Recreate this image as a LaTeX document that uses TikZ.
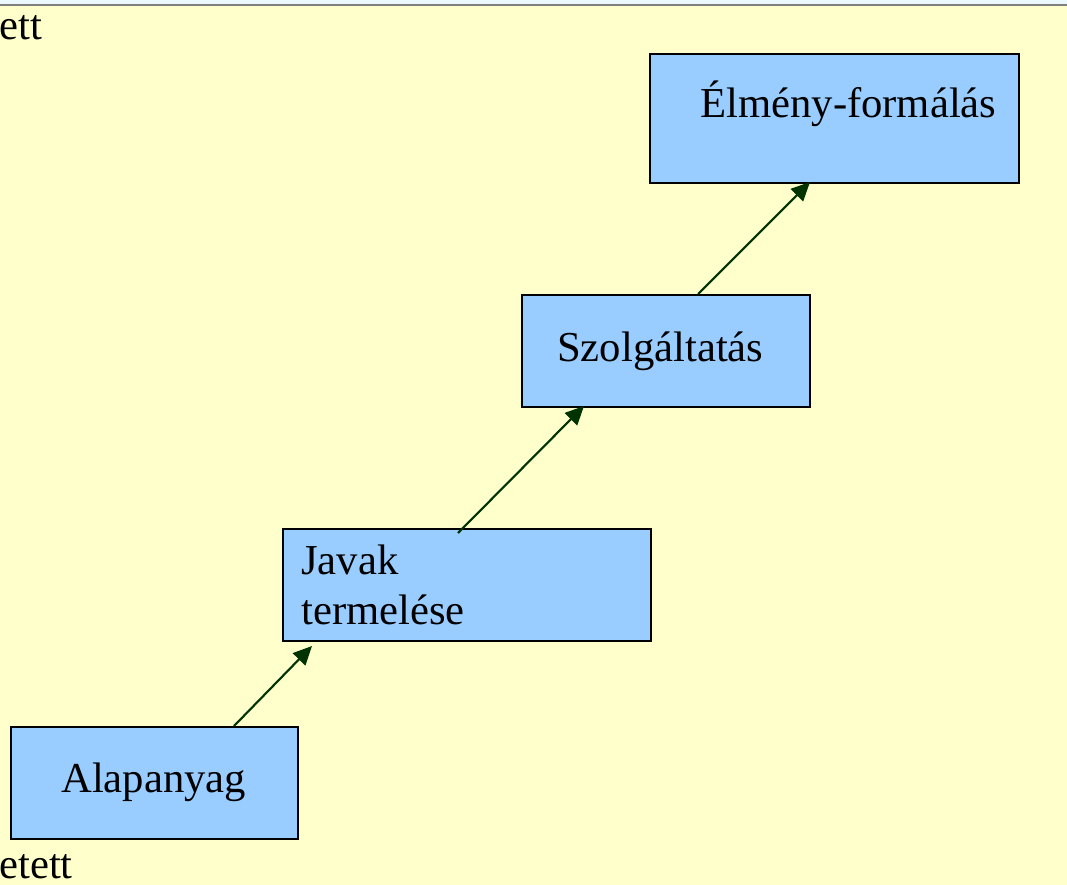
\documentclass[tikz,border=0pt]{standalone}
\usepackage{fontspec}
\setmainfont{Liberation Serif}
\usetikzlibrary{arrows.meta,positioning}
\definecolor{slidebg}{HTML}{FFFFCC}
\definecolor{boxblue}{HTML}{99CCFF}
\definecolor{arrowgreen}{HTML}{003300}

\begin{document}
\begin{tikzpicture}
  [x=0.75pt,y=-0.75pt,
   stage/.style={draw=black,line width=1.7pt,fill=boxblue,inner sep=0pt,anchor=north west},
   word/.style={anchor=base west,inner sep=0pt,font=\fontsize{32}{37}\selectfont},
   flow/.style={draw=arrowgreen,line width=1.6pt,-{Triangle[length=14pt,width=13pt]}}]
  \useasboundingbox (0,0) rectangle (1067,885);
  \fill[slidebg] (0,0) rectangle (1067,885);
  \fill[cyan!8] (0,0) rectangle (1067,4);
  \draw[gray,line width=1.5pt] (0,5) -- (1067,5);

  % the four steps
  \node[stage,minimum width=287*0.75pt,minimum height=112*0.75pt] (alap) at (10,726) {};
  \node[stage,minimum width=368*0.75pt,minimum height=112*0.75pt] (javak) at (282,528) {};
  \node[stage,minimum width=288*0.75pt,minimum height=112*0.75pt] (szolg) at (521,294) {};
  \node[stage,minimum width=369*0.75pt,minimum height=129*0.75pt] (elmeny) at (649,53) {};

  \node[word] (t1) at (61,792) {Alapanyag};
  \node[word,align=left] (t2) at (301,624) {Javak\\termelése};
  \node[word] (t3) at (557,361) {Szolgáltatás};
  \node[word] (t4) at (700,117) {Élmény-formálás};

  % cut off words at the left edge
  \node[word] (e1) at (-1,39) {ett};
  \node[word] (e2) at (-1,878) {etett};

  \coordinate (a1) at (234,726);
  \coordinate (b1) at (312,646);
  \coordinate (a2) at (458,533);
  \coordinate (b2) at (584,406);
  \coordinate (a3) at (698,294);
  \coordinate (b3) at (810,182);

  \foreach \from/\to in {a1/b1,a2/b2,a3/b3}
    \draw[flow] (\from) -- (\to);

\end{tikzpicture}
\end{document}
